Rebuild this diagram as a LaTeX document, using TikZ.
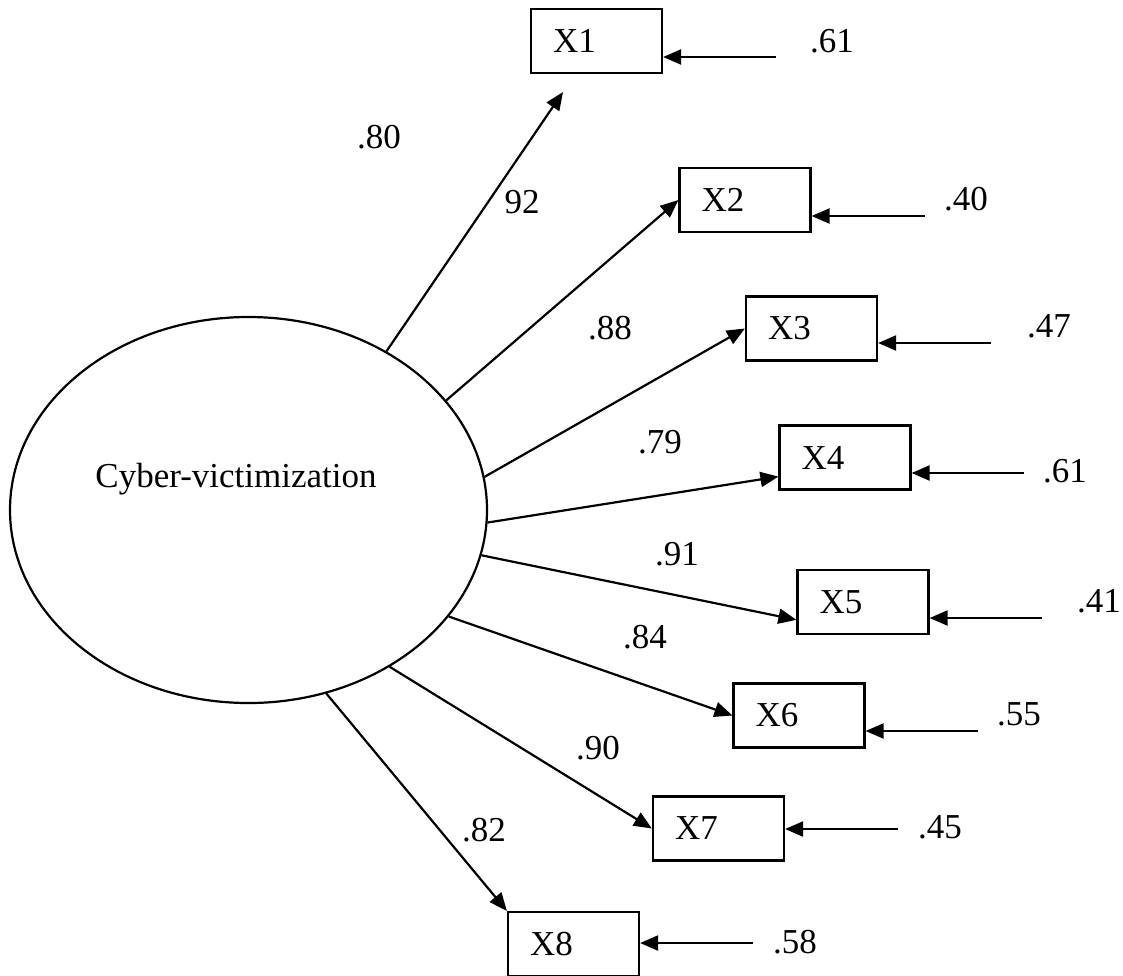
\documentclass[tikz,border=0pt]{standalone}
\usepackage{fontspec}
\setmainfont{Liberation Serif}
\usetikzlibrary{arrows.meta,shapes.geometric}

\begin{document}
\begin{tikzpicture}[
  x=1pt,y=-1pt,
  >={Triangle[length=18pt,width=15pt]},
  every node/.style={font=\fontsize{35}{40}\selectfont},
  lat/.style={ellipse,draw,line width=2.2pt,minimum width=477pt,minimum height=386pt,inner sep=0pt},
  obs/.style={rectangle,draw,line width=2.2pt,minimum width=131pt,minimum height=64pt,inner xsep=22pt,inner ysep=0pt,text width=87pt,align=left},
  num/.style={anchor=base,inner sep=0pt},
  arc/.style={->,line width=2.2pt}
]
\useasboundingbox (0,0) rectangle (1123,975);
% latent variable
\node[lat] (cv) at (248.5,510) {};
\node[num] (cvtext) at (236,487) {Cyber-victimization};
% indicators
\node[obs] (X1) at (596.5,41) {X1};
\node[obs] (X2) at (745,200) {X2};
\node[obs] (X3) at (811.5,328.5) {X3};
\node[obs] (X4) at (845,457.5) {X4};
\node[obs] (X5) at (863,602) {X5};
\node[obs] (X6) at (799,715.5) {X6};
\node[obs] (X7) at (718.5,828.5) {X7};
\node[obs] (X8) at (573.5,944) {X8};
% loadings
\coordinate (t1) at (563,92);
\draw[arc] (cv.49.5) -- (t1);
\draw[arc] (cv.29.4) -- (X2.west);
\draw[arc] (cv.8.1) -- (X3.west);
\draw[arc] (cv.-3.3) -- (X4.196);
\draw[arc] (cv.-11.1) -- (X5.195);
\draw[arc] (cv.-28.4) -- (X6.west);
\draw[arc] (cv.-48.3) -- (X7.west);
\draw[arc] (cv.-67.4) -- (X8.north west);
\node[num] (l1a) at (379,148) {.80};
\node[num] (l1b) at (522,213) {92};
\node[num] (l2) at (610,339) {.88};
\node[num] (l3) at (660,453) {.79};
\node[num] (l4) at (677,565) {.91};
\node[num] (l5) at (645,648) {.84};
\node[num] (l6) at (598,759) {.90};
\node[num] (l7) at (484,841) {.82};
% errors
\coordinate (e1) at (776,57);
\coordinate (e2) at (925,216);
\coordinate (e3) at (991,343);
\coordinate (e4) at (1024,473);
\coordinate (e5) at (1042,618);
\coordinate (e6) at (978,731);
\coordinate (e7) at (898,829);
\coordinate (e8) at (753,943);
\draw[arc] (e1) -- (e1 -| X1.east);
\draw[arc] (e2) -- (e2 -| X2.east);
\draw[arc] (e3) -- (e3 -| X3.east);
\draw[arc] (e4) -- (e4 -| X4.east);
\draw[arc] (e5) -- (e5 -| X5.east);
\draw[arc] (e6) -- (e6 -| X6.east);
\draw[arc] (e7) -- (e7 -| X7.east);
\draw[arc] (e8) -- (e8 -| X8.east);
\node[num] (r1) at (832,52) {.61};
\node[num] (r2) at (966,210) {.40};
\node[num] (r3) at (1049,337) {.47};
\node[num] (r4) at (1065,482) {.61};
\node[num] (r5) at (1099,612) {.41};
\node[num] (r6) at (1019,725) {.55};
\node[num] (r7) at (940,838) {.45};
\node[num] (r8) at (795,953) {.58};
\end{tikzpicture}
\end{document}
